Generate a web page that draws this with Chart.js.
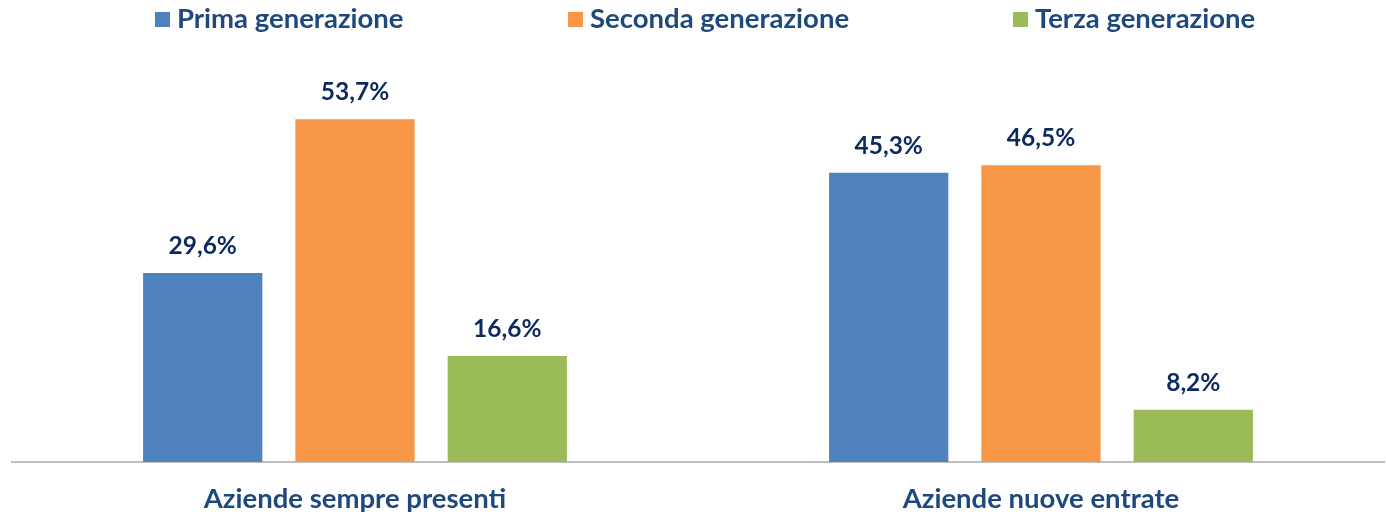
<!DOCTYPE html>
<html lang="it">
<head>
    <meta charset="UTF-8">
    <title>Generazioni</title>
    <script src="https://cdn.jsdelivr.net/npm/chart.js"></script>
    <style>
        html, body { margin: 0; padding: 0; background: #fff; }
        .chart-container { position: relative; width: 1386px; height: 516px; }
    </style>
</head>
<body>
    <div class="chart-container">
        <canvas id="genChart"></canvas>
    </div>

    <script>
        const categories = ['Aziende sempre presenti', 'Aziende nuove entrate'];
        const prima = [29.6, 45.3];
        const seconda = [53.7, 46.5];
        const terza = [16.6, 8.2];
        const seriesNames = ['Prima generazione', 'Seconda generazione', 'Terza generazione'];
        const seriesColors = ['#4F81BD', '#F79646', '#9BBB59'];

        const FONT = 'Lato, "Open Sans", sans-serif';

        // value labels above each bar (e.g. "29,6%")
        const valueLabels = {
            id: 'valueLabels',
            afterDatasetsDraw(chart) {
                const ctx = chart.ctx;
                ctx.save();
                ctx.font = 'bold 24.5px ' + FONT;
                ctx.fillStyle = '#0D2A5E';
                ctx.textAlign = 'center';
                ctx.textBaseline = 'alphabetic';
                chart.data.datasets.forEach((ds, i) => {
                    chart.getDatasetMeta(i).data.forEach((bar, j) => {
                        const txt = ds.data[j].toFixed(1).replace('.', ',') + '%';
                        ctx.fillText(txt, bar.x, bar.y - 19);
                    });
                });
                ctx.restore();
            }
        };

        // legend drawn like the Excel one, uneven spacing
        const legendXs = [155, 568, 1013];
        const topLegend = {
            id: 'topLegend',
            afterDraw(chart) {
                const ctx = chart.ctx;
                ctx.save();
                ctx.font = 'bold 27.5px ' + FONT;
                ctx.textBaseline = 'middle';
                ctx.textAlign = 'left';
                chart.data.datasets.forEach((ds, i) => {
                    const x = legendXs[i];
                    ctx.fillStyle = ds.backgroundColor;
                    ctx.fillRect(x, 12, 15, 15);
                    ctx.fillStyle = '#1F497D';
                    ctx.fillText(ds.label, x + 22, 19);
                });
                ctx.restore();
            }
        };

        const ctx = document.getElementById('genChart').getContext('2d');
        const chart = new Chart(ctx, {
            type: 'bar',
            data: {
                labels: categories,
                datasets: [
                    { label: seriesNames[0], data: prima, backgroundColor: seriesColors[0] },
                    { label: seriesNames[1], data: seconda, backgroundColor: seriesColors[1] },
                    { label: seriesNames[2], data: terza, backgroundColor: seriesColors[2] }
                ]
            },
            options: {
                responsive: true,
                maintainAspectRatio: false,
                animation: false,
                categoryPercentage: 0.666,
                barPercentage: 0.783,
                layout: { padding: { top: 79, left: 12, right: 2, bottom: 0 } },
                plugins: {
                    legend: { display: false },
                    tooltip: { enabled: false }
                },
                scales: {
                    x: {
                        grid: { display: false, drawTicks: false },
                        border: { display: true, color: '#BFBFBF', width: 2 },
                        ticks: {
                            color: '#1F497D',
                            font: { family: FONT, size: 27.5, weight: 'bold' },
                            padding: 21
                        },
                        afterFit(scale) { scale.height = 54; }
                    },
                    y: {
                        display: false,
                        min: 0,
                        max: 60
                    }
                }
            },
            plugins: [valueLabels, topLegend]
        });
    </script>
</body>
</html>
